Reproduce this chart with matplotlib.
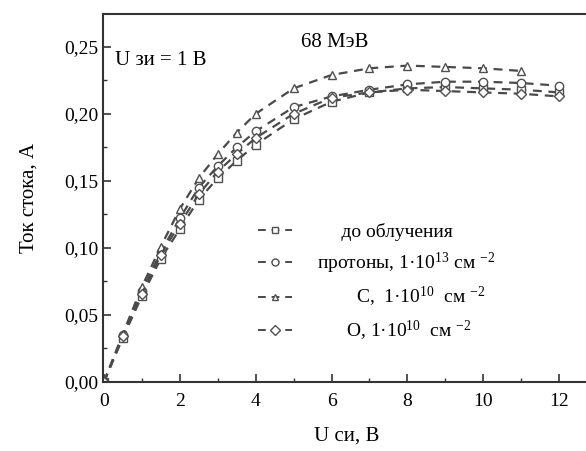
import numpy as np
import matplotlib.pyplot as plt
import matplotlib
from matplotlib.ticker import MultipleLocator, FuncFormatter

matplotlib.rcParams['font.family'] = ['Liberation Serif', 'DejaVu Serif']
matplotlib.rcParams['mathtext.fontset'] = 'custom'
matplotlib.rcParams['mathtext.rm'] = 'Liberation Serif'
matplotlib.rcParams['mathtext.it'] = 'Liberation Serif'

# ===== данные =====
u_si = [0, 0.5, 1, 1.5, 2, 2.5, 3, 3.5, 4, 5, 6, 7, 8, 9, 10, 11, 12]

i_before = [0.0, 0.033, 0.064, 0.092, 0.114, 0.136, 0.152, 0.165, 0.177,
            0.196, 0.209, 0.216, 0.219, 0.220, 0.219, 0.218, 0.216]
i_protons = [0.0, 0.035, 0.068, 0.097, 0.122, 0.145, 0.161, 0.175, 0.187,
             0.205, 0.213, 0.218, 0.222, 0.224, 0.224, 0.223, 0.221]
u_c = u_si[:-1]
i_carbon = [0.0, 0.036, 0.071, 0.101, 0.129, 0.152, 0.170, 0.186, 0.200,
            0.219, 0.229, 0.234, 0.236, 0.235, 0.234, 0.232]
i_oxygen = [0.0, 0.034, 0.066, 0.095, 0.118, 0.140, 0.157, 0.170, 0.182,
            0.200, 0.212, 0.216, 0.218, 0.217, 0.216, 0.215, 0.213]

labels = ['     до облучения',
          'протоны, 1·10$^{13}$ см $^{-2}$',
          '        С,  1·10$^{10}$  см $^{-2}$',
          '      О, 1·10$^{10}$  см $^{-2}$']

LINE_C = '#4a4a4a'
MARK_C = '#505050'


def main():
    fig = plt.figure(figsize=(5.86, 4.51), dpi=100)
    ax = fig.add_axes([0.176, 0.153, 0.83, 0.816])

    series = [(u_si, i_before, 's'), (u_si, i_protons, 'o'),
              (u_c, i_carbon, '^'), (u_si, i_oxygen, 'D')]
    handles = []
    for (x, y, m), lab in zip(series, labels):
        ms = 5.0 if m == 'D' else 6.0
        h, = ax.plot(x, y, linestyle=(0, (4, 3)), color=LINE_C, linewidth=1.6,
                     marker=m, markersize=ms, markerfacecolor='white',
                     markeredgecolor=MARK_C, markeredgewidth=1.0, label=lab)
        handles.append(h)

    ax.set_xlim(-0.02, 12.8)
    ax.set_ylim(0, 0.2745)
    ax.xaxis.set_major_locator(MultipleLocator(2))
    ax.xaxis.set_minor_locator(MultipleLocator(1))
    ax.yaxis.set_major_locator(MultipleLocator(0.05))
    ax.yaxis.set_minor_locator(MultipleLocator(0.025))
    ax.yaxis.set_major_formatter(FuncFormatter(lambda v, p: f'{v:.2f}'.replace('.', ',')))
    ax.tick_params(which='both', direction='in', labelsize=14, color='#333333')
    ax.tick_params(which='major', length=6, width=1.2)
    ax.tick_params(which='minor', length=3, width=1.0)
    ax.tick_params(axis='x', pad=8)
    for s in ax.spines.values():
        s.set_color('#333333')
        s.set_linewidth(1.5)
    ax.spines['right'].set_visible(False)

    ax.set_xlabel('U си, В', fontsize=15, labelpad=12)
    ax.set_ylabel('Ток стока, А', fontsize=15, labelpad=18)

    ax.text(0.3, 0.240, 'U зи = 1 В', fontsize=15, va='center')
    ax.text(5.2, 0.253, '68 МэВ', fontsize=15, va='center')

    leg = ax.legend(handles=handles, loc='upper left', bbox_to_anchor=(0.29, 0.47),
                    frameon=False, fontsize=14, handlelength=1.75, handletextpad=1.3,
                    labelspacing=0.5, borderpad=0.2)
    for h in leg.legend_handles:
        h.set_linewidth(1.4)
        h.set_markersize(5)

    fig.savefig('out.png', dpi=100)
    plt.close(fig)


if __name__ == '__main__':
    main()
